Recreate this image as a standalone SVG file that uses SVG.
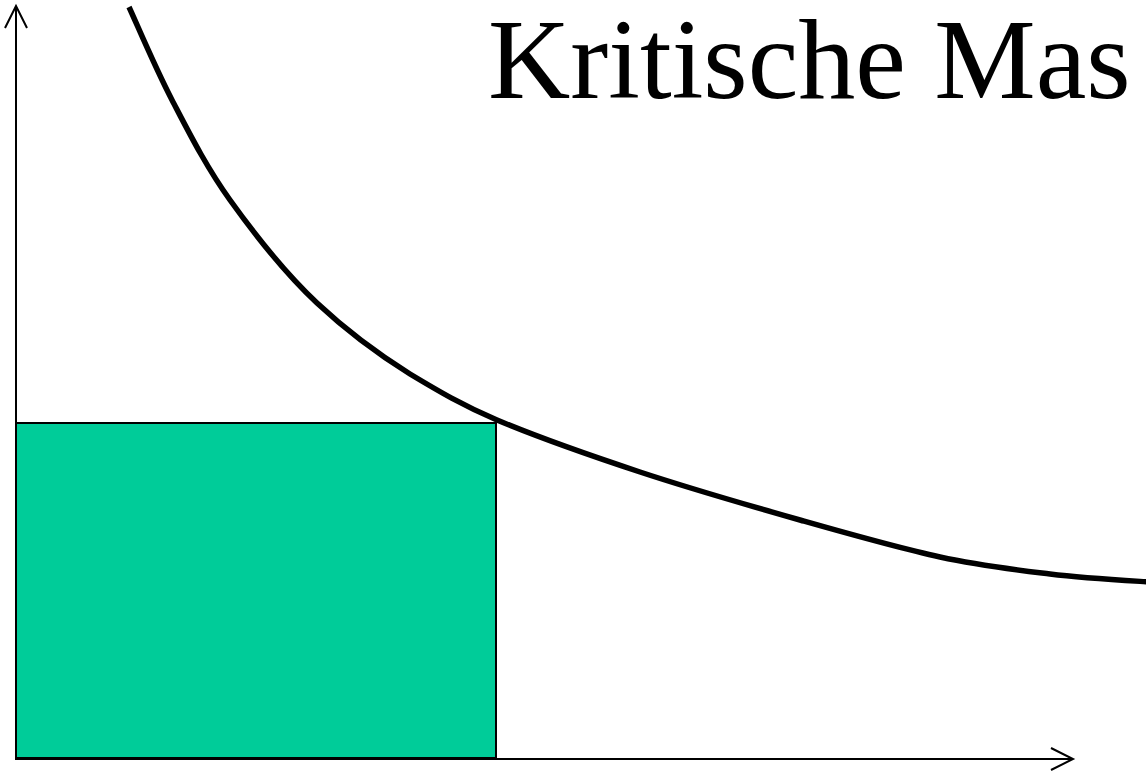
<svg xmlns="http://www.w3.org/2000/svg" width="1146" height="774" viewBox="0 0 1146 774">
  <style>
    .axis { stroke: #000; stroke-width: 2; fill: none; stroke-linecap: butt; }
    .curve { stroke: #000; stroke-width: 5.5; fill: none; stroke-linecap: butt; stroke-linejoin: round; }
    .title { font-family: "Liberation Serif", "Times New Roman", serif; font-size: 114px; fill: #000; }
  </style>
  <rect width="1146" height="774" fill="#fff"/>
  <g id="area">
    <rect x="16" y="423" width="480" height="335" fill="#00CC99" stroke="#000" stroke-width="2"/>
  </g>
  <g id="connectors">
    <line class="axis" x1="16" y1="759" x2="16" y2="7"/>
    <polyline class="axis" points="5,28 16,6 27,28"/>
    <line class="axis" x1="15" y1="759" x2="1072" y2="759"/>
    <polyline class="axis" points="1051,748 1073,759 1051,770"/>
  </g>
  <g id="curve">
    <path class="curve" d="M129,7 C136.2,22.5 155.2,67.8 172,100 C188.8,132.2 205.8,166.2 230,200 C254.2,233.8 285,273 317,303 C349,333 378,354 410,374 C440,392 462,405 497,420 C535,436 589.5,455.3 640,472 C690.5,488.7 750,505.8 800,520 C850,534.2 898.3,548 940,557 C981.7,566 1015.7,569.8 1050,574 C1084.3,578.2 1130,580.7 1150,582"/>
  </g>
  <g id="title">
    <text class="title" x="488" y="98">Kritische Mas</text>
  </g>
</svg>
